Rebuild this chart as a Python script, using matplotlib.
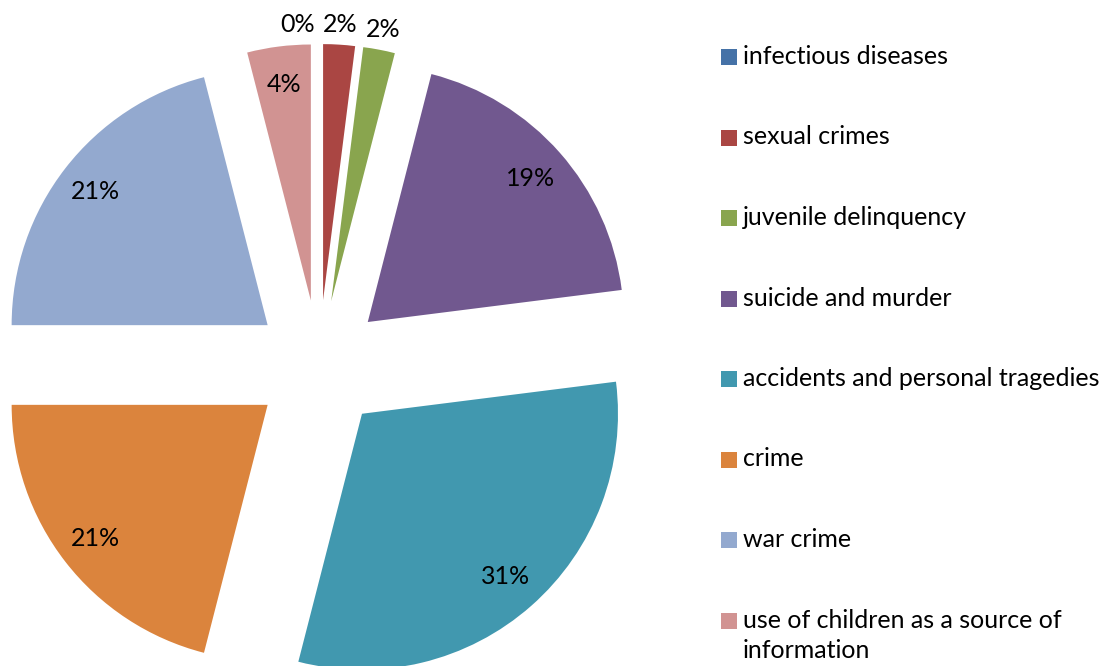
import matplotlib
matplotlib.use('Agg')
import matplotlib.pyplot as plt
import numpy as np
from matplotlib.patches import Rectangle

categories = ["infectious diseases", "sexual crimes", "juvenile delinquency",
              "suicide and murder", "accidents and personal tragedies", "crime",
              "war crime", "use of children as a source of\ninformation"]
shares = [0, 2, 2, 19, 31, 21, 21, 4]
colors = ["#4572A7", "#AA4643", "#89A54E", "#71588F", "#4198AF", "#DB843D",
          "#93A9CF", "#D19392"]

W, H = 1109, 666
FONT = 'Lato'
FS = 18

fig = plt.figure(figsize=(W / 100, H / 100), dpi=100)
ax = fig.add_axes([0, 0, 1, 1])

R = 256
wedges, texts, autotexts = ax.pie(
    shares, colors=colors, startangle=90, counterclock=False,
    center=(319, H - 365), radius=R, explode=[65] * len(shares),
    autopct='%1.0f%%', pctdistance=0.85,
    wedgeprops=dict(linewidth=0),
    textprops=dict(fontsize=FS, family=FONT, color='black'))

# small slices: labels outside the pie
for w, t, v in zip(wedges, autotexts, shares):
    if v < 3:
        thetam = np.deg2rad((w.theta1 + w.theta2) / 2)
        if v == 0:
            thetam += np.deg2rad(4.5)
        cx, cy = w.center
        t.set_position((cx + 1.08 * R * np.cos(thetam), cy + 1.08 * R * np.sin(thetam)))

ax.set_xlim(0, W)
ax.set_ylim(0, H)
ax.set_aspect('equal')
ax.axis('off')

# legend
top0, step, sq, gap = 49, 80.5, 16, 30
for i, (lab, col) in enumerate(zip(categories, colors)):
    top = top0 + i * step
    ax.add_patch(Rectangle((721, H - top - sq), sq, sq, facecolor=col, linewidth=0,
                           clip_on=False))
    for j, line in enumerate(lab.split('\n')):
        ax.text(743, H - top - 15 - j * gap, line, fontsize=FS, family=FONT,
                color='black', va='baseline', ha='left')

fig.savefig('out.png', dpi=100)
